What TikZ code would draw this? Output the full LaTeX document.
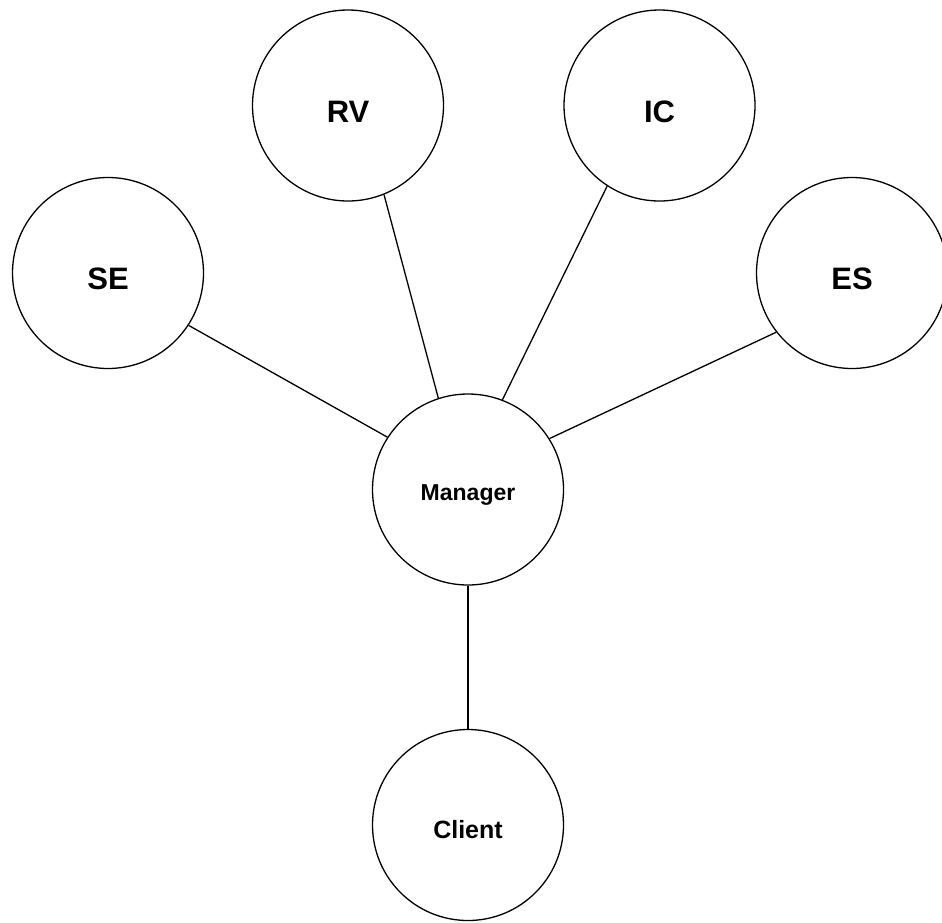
\documentclass[tikz,border=0pt]{standalone}
\usepackage{fontspec}
\setmainfont{Liberation Sans}
\begin{document}
\begin{tikzpicture}[x=1pt,y=-1pt,
  bubble/.style={circle,draw=black,line width=1.3pt,fill=white,minimum size=191pt,inner sep=0pt},
  biglabel/.style={bubble,font=\fontsize{31}{31}\selectfont\bfseries,text height=33pt,text depth=0pt},
  smalllabel/.style={bubble,font=\fontsize{23}{23}\selectfont\bfseries,text height=24.5pt,text depth=2.5pt},
  clientlabel/.style={bubble,font=\fontsize{25}{25}\selectfont\bfseries,text height=26pt,text depth=0pt},
  link/.style={draw=black,line width=1.3pt}]
\fill[white] (0,0) rectangle (942,922);
\clip (0,0) rectangle (942,922);
\node[biglabel] (SE) at (108,273) {SE};
\node[biglabel] (RV) at (348,105.5) {RV};
\node[biglabel] (IC) at (659.5,105.5) {IC};
\node[biglabel] (ES) at (852,273) {ES};
\node[smalllabel] (M) at (468,489.5) {Manager};
\node[clientlabel] (C) at (468,825) {Client};
\draw[link] (SE.-33.7) -- (M.147);
\draw[link] (RV.-68.9) -- (M.108);
\draw[link] (IC.237.5) -- (M.69.8);
\draw[link] (ES.218.7) -- (M.32.6);
\draw[link] (M.south) -- (C.north);
\end{tikzpicture}
\end{document}
